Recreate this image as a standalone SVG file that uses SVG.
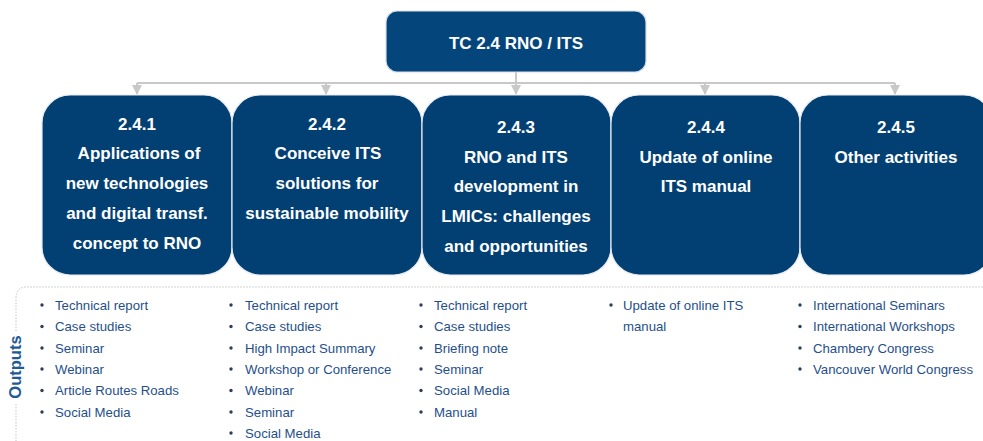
<svg xmlns="http://www.w3.org/2000/svg" width="983" height="441" viewBox="0 0 983 441">
<defs>
<style>
.box{fill:#023f73;stroke:#e6eaef;stroke-width:1.2}
.top{fill:#04467c;stroke:#d8dde3;stroke-width:1.2}
.bt{font-family:"Liberation Sans",Arial,sans-serif;font-weight:bold;font-size:17px;fill:#ffffff;text-anchor:middle}
.ol{font-family:"Liberation Sans",Arial,sans-serif;font-size:13.2px;fill:#1f4f8a}
.bul{fill:#2a3f5a}
.con{stroke:#c8c8c8;stroke-width:2;fill:none}
.dot{stroke:#c4c4c4;stroke-width:1;fill:none;stroke-dasharray:1.5 1.5}
</style>
<marker id="ah" viewBox="0 0 10 10" refX="9" refY="5" markerWidth="5" markerHeight="5" orient="auto" markerUnits="strokeWidth">
<path d="M0,0 L10,5 L0,10 z" fill="#c8c8c8"/>
</marker>
</defs>
<rect width="983" height="441" fill="#ffffff"/>
<g id="connectors">
<path class="con" d="M516,72 V83"/>
<path class="con" d="M137,83 H895"/>
<path class="con" d="M137,83 V94" marker-end="url(#ah)"/>
<path class="con" d="M326,83 V94" marker-end="url(#ah)"/>
<path class="con" d="M516,83 V94" marker-end="url(#ah)"/>
<path class="con" d="M705,83 V94" marker-end="url(#ah)"/>
<path class="con" d="M895,83 V94" marker-end="url(#ah)"/>
</g>
<g id="root">
<rect class="top" x="386" y="11" width="260" height="61" rx="11"/>
<text class="bt" x="516" y="49">TC 2.4 RNO / ITS</text>
</g>
<g id="n241">
<rect class="box" x="42" y="95" width="190" height="180" rx="28"/>
<text class="bt" x="137" y="130">2.4.1</text>
<text class="bt" x="139" y="159">Applications of</text>
<text class="bt" x="137" y="189">new technologies</text>
<text class="bt" x="137" y="219">and digital transf.</text>
<text class="bt" x="137" y="249">concept to RNO</text>
</g>
<g id="n242">
<rect class="box" x="232" y="95" width="190" height="180" rx="28"/>
<text class="bt" x="327" y="130">2.4.2</text>
<text class="bt" x="328" y="159">Conceive ITS</text>
<text class="bt" x="327" y="189">solutions for</text>
<text class="bt" x="327" y="219">sustainable mobility</text>
</g>
<g id="n243">
<rect class="box" x="422" y="95" width="189" height="180" rx="28"/>
<text class="bt" x="516" y="133">2.4.3</text>
<text class="bt" x="516" y="163">RNO and ITS</text>
<text class="bt" x="516" y="192">development in</text>
<text class="bt" x="516" y="222">LMICs: challenges</text>
<text class="bt" x="516" y="252">and opportunities</text>
</g>
<g id="n244">
<rect class="box" x="611" y="95" width="189" height="180" rx="28"/>
<text class="bt" x="706" y="133">2.4.4</text>
<text class="bt" x="706" y="163">Update of online</text>
<text class="bt" x="706" y="192">ITS manual</text>
</g>
<g id="n245">
<rect class="box" x="800" y="95" width="192" height="180" rx="28"/>
<text class="bt" x="896" y="133">2.4.5</text>
<text class="bt" x="896" y="163">Other activities</text>
</g>
<g id="outputs">
<path class="dot" d="M16,331 V298 Q16,287 27,287 H983"/>
<path class="dot" d="M16,404 V441"/>
<text x="21" y="367" transform="rotate(-90 21 367)" font-family="Liberation Sans,Arial,sans-serif" font-weight="bold" font-size="16.5" fill="#1f5a96" text-anchor="middle">Outputs</text>
<g class="bul">
<circle cx="42" cy="305" r="1.7"/><circle cx="42" cy="326.5" r="1.7"/><circle cx="42" cy="348" r="1.7"/><circle cx="42" cy="369" r="1.7"/><circle cx="42" cy="390.5" r="1.7"/><circle cx="42" cy="412" r="1.7"/>
<circle cx="231" cy="305" r="1.7"/><circle cx="231" cy="326.5" r="1.7"/><circle cx="231" cy="348" r="1.7"/><circle cx="231" cy="369" r="1.7"/><circle cx="231" cy="390.5" r="1.7"/><circle cx="231" cy="412" r="1.7"/><circle cx="231" cy="433" r="1.7"/>
<circle cx="421" cy="305" r="1.7"/><circle cx="421" cy="326.5" r="1.7"/><circle cx="421" cy="348" r="1.7"/><circle cx="421" cy="369" r="1.7"/><circle cx="421" cy="390.5" r="1.7"/><circle cx="421" cy="412" r="1.7"/>
<circle cx="611" cy="305" r="1.7"/>
<circle cx="800" cy="305" r="1.7"/><circle cx="800" cy="326.5" r="1.7"/><circle cx="800" cy="348" r="1.7"/><circle cx="800" cy="369" r="1.7"/>
</g>
<g class="ol">
<text x="55" y="309.5">Technical report</text>
<text x="55" y="331">Case studies</text>
<text x="55" y="352.5">Seminar</text>
<text x="55" y="373.5">Webinar</text>
<text x="55" y="395">Article Routes Roads</text>
<text x="55" y="416.5">Social Media</text>
<text x="245" y="309.5">Technical report</text>
<text x="245" y="331">Case studies</text>
<text x="245" y="352.5">High Impact Summary</text>
<text x="245" y="373.5">Workshop or Conference</text>
<text x="245" y="395">Webinar</text>
<text x="245" y="416.5">Seminar</text>
<text x="245" y="437.5">Social Media</text>
<text x="434" y="309.5">Technical report</text>
<text x="434" y="331">Case studies</text>
<text x="434" y="352.5">Briefing note</text>
<text x="434" y="373.5">Seminar</text>
<text x="434" y="395">Social Media</text>
<text x="434" y="416.5">Manual</text>
<text x="623" y="309.5">Update of online ITS</text>
<text x="623" y="331">manual</text>
<text x="813" y="309.5">International Seminars</text>
<text x="813" y="331">International Workshops</text>
<text x="813" y="352.5">Chambery Congress</text>
<text x="813" y="373.5">Vancouver World Congress</text>
</g>
</g>
</svg>
